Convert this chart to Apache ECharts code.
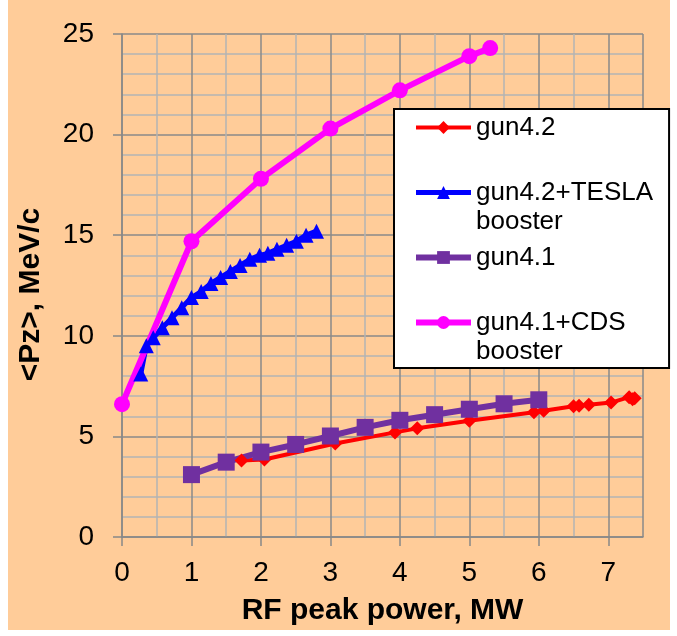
<!DOCTYPE html>
<html>
<head>
<meta charset="utf-8">
<script src="https://cdn.jsdelivr.net/npm/echarts@6/dist/echarts.min.js"></script>
<style>html,body{margin:0;padding:0;background:#fff}#c{width:677px;height:636px}</style>
</head>
<body>
<div id="c"></div>
<script>
const xTicks = [0, 1, 2, 3, 4, 5, 6, 7];
const yTicks = [0, 5, 10, 15, 20, 25];
const seriesNames = ['gun4.2', 'gun4.2+TESLA booster', 'gun4.1', 'gun4.1+CDS booster'];
const gun42 = [[1.72,3.8],[2.05,3.85],[3.07,4.65],[3.93,5.2],[4.25,5.4],[5.0,5.78],[5.93,6.2],[6.07,6.27],[6.5,6.5],[6.58,6.52],[6.72,6.57],[7.04,6.68],[7.3,6.95],[7.35,6.85],[7.38,6.9]];
const gun42Tesla = [[0.27,8.1],[0.35,9.5],[0.45,9.9],[0.58,10.4],[0.72,10.9],[0.86,11.4],[1.0,11.9],[1.14,12.2],[1.28,12.6],[1.42,12.9],[1.56,13.2],[1.7,13.5],[1.84,13.8],[1.98,14.0],[2.1,14.1],[2.23,14.3],[2.37,14.5],[2.51,14.7],[2.65,15.0],[2.8,15.2]];
const gun41 = [[1,3.1],[1.5,3.72],[2,4.22],[2.5,4.6],[3,5.02],[3.5,5.45],[4,5.8],[4.5,6.08],[5,6.35],[5.5,6.62],[6,6.82]];
const gun41Cds = [[0,6.6],[1,14.7],[2,17.8],[3,20.3],[4,22.2],[5,23.9],[5.3,24.3]];

const FONT = '"Liberation Sans", Arial, sans-serif';
const colors = ['#FF0000', '#0000FF', '#7030A0', '#FF00FF'];
const widths = [4, 5, 6, 6];
const chart = echarts.init(document.getElementById('c'), null, {renderer: 'canvas'});
const legendFmt = {
  'gun4.2': ' \ngun4.2\n ',
  'gun4.2+TESLA booster': ' \ngun4.2+TESLA\nbooster',
  'gun4.1': ' \ngun4.1\n ',
  'gun4.1+CDS booster': ' \ngun4.1+CDS\nbooster'
};
const axisCommon = {
  axisLine: {show: true, lineStyle: {color: '#888', width: 1.5}},
  axisTick: {show: true, length: 9, lineStyle: {color: '#888', width: 1.5}},
  splitLine: {show: true, lineStyle: {color: '#8a8a8a', width: 1.5}},
  minorTick: {show: false},
  minorSplitLine: {show: true, lineStyle: {color: '#b4b4b4', width: 1.5}},
  axisLabel: {color: '#000', fontSize: 28, fontFamily: FONT},
  nameTextStyle: {color: '#000', fontSize: 30, fontWeight: 'bold', fontFamily: FONT}
};
chart.setOption({
  animation: false,
  backgroundColor: '#fff',
  graphic: [{type: 'rect', z: -10, silent: true, shape: {x: 8, y: 0, width: 662, height: 630}, style: {fill: '#FFCC99'}}],
  grid: {left: 122, right: 34, top: 34, bottom: 99, containLabel: false},
  legend: {
    orient: 'vertical',
    left: 394, top: 109,
    padding: [-25, 16, 2, 19],
    itemGap: -22,
    itemWidth: 55, itemHeight: 16,
    backgroundColor: '#fff', borderColor: '#000', borderWidth: 2,
    data: seriesNames.map((n, i) => ({name: n, lineStyle: {width: widths[i], color: colors[i]}})),
    formatter: n => legendFmt[n],
    textStyle: {color: '#000', fontSize: 26, lineHeight: 29, fontFamily: FONT}
  },
  xAxis: Object.assign({}, axisCommon, {
    type: 'value', min: 0, max: 7.5, interval: 1,
    minorTick: {show: false, splitNumber: 2},
    axisLabel: Object.assign({}, axisCommon.axisLabel, {margin: 22, showMaxLabel: false,
      formatter: v => xTicks.indexOf(v) >= 0 ? String(v) : ''}),
    name: 'RF peak power, MW', nameLocation: 'middle', nameGap: 59
  }),
  yAxis: Object.assign({}, axisCommon, {
    type: 'value', min: 0, max: 25, interval: 5,
    minorTick: {show: false, splitNumber: 5},
    axisLabel: Object.assign({}, axisCommon.axisLabel, {margin: 28,
      formatter: v => yTicks.indexOf(v) >= 0 ? String(v) : ''}),
    name: '<Pz>, MeV/c', nameLocation: 'middle', nameGap: 76, nameRotate: 90,
    nameTextStyle: Object.assign({}, axisCommon.nameTextStyle, {padding: [0, 18, 0, 0]})
  }),
  series: [
    {name: seriesNames[0], type: 'line', data: gun42, symbol: 'diamond', symbolSize: 14,
      lineStyle: {color: colors[0], width: widths[0]}, itemStyle: {color: colors[0]}},
    {name: seriesNames[1], type: 'line', data: gun42Tesla, symbol: 'triangle', symbolSize: 15,
      lineStyle: {color: colors[1], width: widths[1]}, itemStyle: {color: colors[1]}},
    {name: seriesNames[2], type: 'line', data: gun41, symbol: 'rect', symbolSize: 17,
      lineStyle: {color: colors[2], width: widths[2]}, itemStyle: {color: colors[2]}},
    {name: seriesNames[3], type: 'line', data: gun41Cds, symbol: 'circle', symbolSize: 16,
      lineStyle: {color: colors[3], width: widths[3]}, itemStyle: {color: colors[3]}}
  ]
});
</script>
</body>
</html>
